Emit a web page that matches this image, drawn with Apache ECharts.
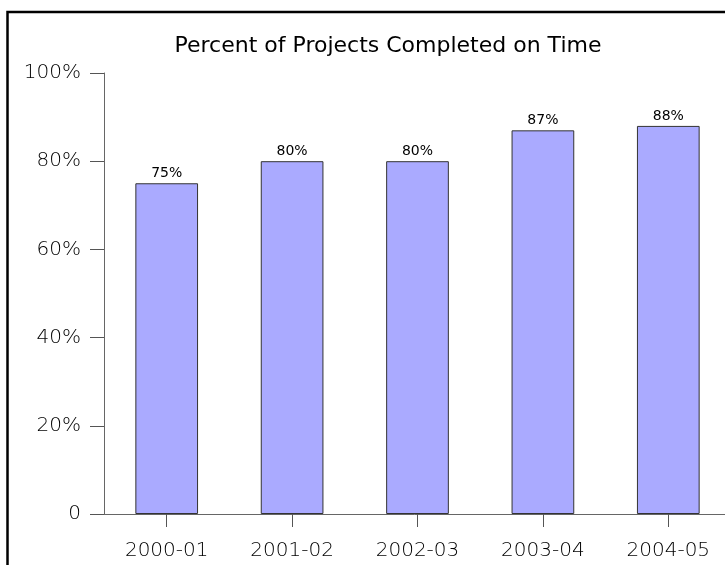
<!DOCTYPE html>
<html>
<head>
<meta charset="utf-8">
<script src="https://cdn.jsdelivr.net/npm/echarts@6/dist/echarts.min.js"></script>
<style>
  html, body { margin: 0; padding: 0; background: #fff; }
  #chart { width: 725px; height: 565px; }
</style>
</head>
<body>
<div id="chart"></div>
<script>
const years = ['2000-01', '2001-02', '2002-03', '2003-04', '2004-05']
const onTimePct = [75, 80, 80, 87, 88]
const yTicks = [0, 20, 40, 60, 80, 100]

const FONT = '"DejaVu Sans", Verdana, sans-serif'
const chart = echarts.init(document.getElementById('chart'), null, { renderer: 'canvas' })

chart.setOption({
  backgroundColor: '#fff',
  animation: false,
  textStyle: { fontFamily: FONT },
  title: {
    text: 'Percent of Projects Completed on Time',
    left: 383,
    top: 30,
    textAlign: 'center',
    textStyle: { fontSize: 22, fontWeight: 'normal', color: '#000', fontFamily: FONT }
  },
  graphic: [{
    type: 'rect',
    shape: { x: 7.5, y: 12, width: 800, height: 700 },
    style: { fill: 'none', stroke: '#000', lineWidth: 2.5 },
    silent: true
  }],
  grid: { left: 104, width: 627, top: 73, height: 441, outerBoundsMode: 'none', containLabel: false },
  xAxis: {
    type: 'category',
    data: years,
    axisLine: { lineStyle: { color: '#666', width: 1 } },
    axisTick: { show: true, alignWithLabel: true, length: 13, lineStyle: { color: '#555' } },
    axisLabel: { fontSize: 20, color: '#000', margin: 27, fontFamily: FONT, fontWeight: 200 }
  },
  yAxis: {
    type: 'value',
    min: yTicks[0],
    max: yTicks[yTicks.length - 1],
    interval: 20,
    splitLine: { show: false },
    axisLine: { show: true, lineStyle: { color: '#666', width: 1 } },
    axisTick: { show: true, length: 14, lineStyle: { color: '#555' } },
    axisLabel: {
      fontSize: 20,
      color: '#000',
      margin: 23,
      fontFamily: FONT,
      fontWeight: 200,
      formatter: v => v === 0 ? '0' : v + '%'
    }
  },
  series: [{
    type: 'bar',
    data: onTimePct,
    barWidth: '50%',
    itemStyle: { color: '#aaaaff', borderColor: '#333', borderWidth: 1 },
    label: {
      show: true,
      position: 'top',
      distance: 3,
      fontSize: 14,
      color: '#000',
      fontFamily: FONT,
      formatter: p => p.value + '%'
    }
  }]
})
</script>
</body>
</html>
